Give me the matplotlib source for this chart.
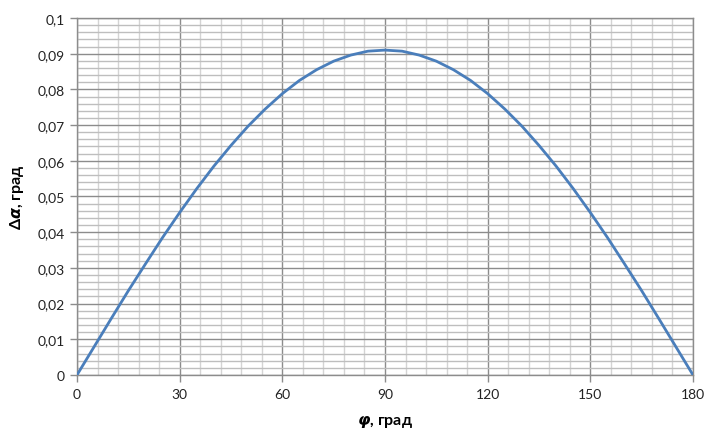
import matplotlib.pyplot as plt
from matplotlib.ticker import MultipleLocator, FuncFormatter

# угол, град и отклонение, град
phi = [0, 5, 10, 15, 20, 25, 30, 35, 40, 45, 50, 55, 60, 65, 70, 75, 80, 85, 90,
       95, 100, 105, 110, 115, 120, 125, 130, 135, 140, 145, 150, 155, 160, 165, 170, 175, 180]
d_alpha = [0.0, 0.0079, 0.0158, 0.0236, 0.0311, 0.0385, 0.0455, 0.0522, 0.0585,
           0.0643, 0.0697, 0.0745, 0.0788, 0.0825, 0.0855, 0.0879, 0.0896, 0.0907, 0.0910,
           0.0907, 0.0896, 0.0879, 0.0855, 0.0825, 0.0788, 0.0745, 0.0697, 0.0643,
           0.0585, 0.0522, 0.0455, 0.0385, 0.0311, 0.0236, 0.0158, 0.0079, 0.0]

x_ticks = [0, 30, 60, 90, 120, 150, 180]

plt.rcParams['font.family'] = ['Lato', 'DejaVu Sans']
plt.rcParams['mathtext.fontset'] = 'dejavusans'

fig = plt.figure(figsize=(7.05, 4.31), dpi=100)
ax = fig.add_axes([0.1092, 0.1276, 0.8738, 0.8284])

ax.plot(phi, d_alpha, color="#4A7EBB", lw=2.0, solid_joinstyle="round",
        solid_capstyle="round", zorder=3)

ax.set_xlim(0, 180)
ax.set_ylim(0, 0.1)
ax.set_xticks(x_ticks)
ax.xaxis.set_minor_locator(MultipleLocator(6))
ax.yaxis.set_major_locator(MultipleLocator(0.01))
ax.yaxis.set_minor_locator(MultipleLocator(0.002))
ax.yaxis.set_major_formatter(FuncFormatter(
    lambda v, p: "0" if abs(v) < 1e-9 else ("%g" % round(v, 3)).replace(".", ",")))

ax.grid(which="minor", axis="x", color="#D4D4D4", lw=1.0)
ax.grid(which="minor", axis="y", color="#BEBEBE", lw=1.0)
ax.grid(which="major", color="#8C8C8C", lw=1.0)
ax.set_axisbelow(True)

for s in ax.spines.values():
    s.set_color("#8C8C8C")
    s.set_linewidth(1.0)

ax.tick_params(which="major", length=5, width=1.0, color="#8C8C8C",
               labelsize=10, labelcolor="#222222", pad=4)
ax.tick_params(which="minor", length=0)

ax.set_xlabel(r"$\mathbfit{\varphi}$, град", fontsize=11.5, fontweight="bold", labelpad=10)
ax.set_ylabel(r"Δ$\mathbfit{\alpha}$, град", fontsize=11.5, fontweight="bold", labelpad=8)

plt.savefig("out.png", dpi=100)
plt.close()
